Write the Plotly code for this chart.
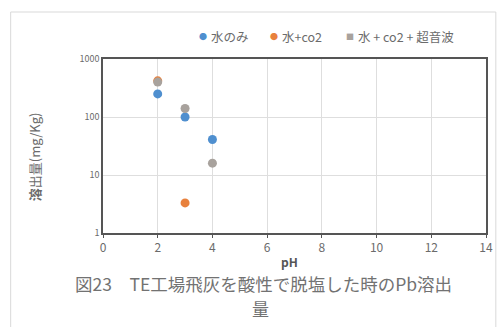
import plotly.graph_objects as go

# Pb leaching (mg/Kg) vs. pH for three washing conditions
ph_water = [2, 3, 4]
pb_water = [250, 100, 41]

ph_co2 = [2, 3]
pb_co2 = [420, 3.3]

ph_co2_us = [2, 3, 4]
pb_co2_us = [400, 140, 16]

series_names = ["水のみ", "水+co2", "水 + co2 + 超音波"]
series_colors = ["#4f8fcf", "#e8813d", "#a8a29d"]
legend_symbols = ["●", "●", "■"]
y_ticks = [1, 10, 100, 1000]
x_ticks = [0, 2, 4, 6, 8, 10, 12, 14]

FONT = "Noto Sans CJK JP"
TXT = "#6b6b6b"

L, R, T, B = 103, 493, 59, 233
PW, PH = R - L, B - T


def px(x):
    return (x - L) / PW


def py(y):
    return (B - y) / PH


fig = go.Figure()
for xs, ys, name, col in [(ph_water, pb_water, series_names[0], series_colors[0]),
                          (ph_co2, pb_co2, series_names[1], series_colors[1]),
                          (ph_co2_us, pb_co2_us, series_names[2], series_colors[2])]:
    fig.add_trace(go.Scatter(x=xs, y=ys, mode="markers", name=name,
                             marker=dict(color=col, size=9)))

annotations = []
# legend row drawn as symbol + label pairs above the plot
legend_x = [205, 277, 355]
for lx, name, col, sym in zip(legend_x, series_names, series_colors, legend_symbols):
    annotations.append(dict(text=sym, xref="paper", yref="paper", x=px(lx), y=py(36),
                            showarrow=False, xanchor="center", yanchor="middle",
                            font=dict(size=8, color=col, family=FONT)))
    annotations.append(dict(text=name, xref="paper", yref="paper", x=px(lx + 6), y=py(36),
                            showarrow=False, xanchor="left", yanchor="middle",
                            font=dict(size=12.5, color=TXT, family=FONT)))

annotations += [
    dict(text="<b>pH</b>", xref="paper", yref="paper", x=px(293), y=py(261),
         showarrow=False, xanchor="center", yanchor="middle",
         font=dict(size=12, color="#555555", family=FONT)),
    dict(text="<b>溶</b>出量(mg/Kg)", xref="paper", yref="paper", x=px(33),
         y=py(157), textangle=-90, showarrow=False,
         xanchor="center", yanchor="middle",
         font=dict(size=13, color=TXT, family=FONT)),
    dict(text="図23　TE工場飛灰を酸性で脱塩した時のPb溶出", xref="paper", yref="paper",
         x=px(266), y=py(283), showarrow=False,
         xanchor="center", yanchor="middle",
         font=dict(size=17.5, color="#727272", family=FONT)),
    dict(text="量", xref="paper", yref="paper",
         x=px(263), y=py(308), showarrow=False,
         xanchor="center", yanchor="middle",
         font=dict(size=17, color="#727272", family=FONT)),
]

fig.update_layout(
    width=502, height=327,
    margin=dict(l=L, r=502 - R, t=T, b=327 - B),
    paper_bgcolor="white", plot_bgcolor="white",
    font=dict(family=FONT, color=TXT, size=10),
    showlegend=False,
    xaxis=dict(range=[0, 14], tickvals=x_ticks, showgrid=True, gridcolor="#dedede",
               gridwidth=1, showline=True, linecolor="#555555", linewidth=1.5,
               mirror=True, ticks="outside", ticklen=3, tickcolor="#555555",
               tickfont=dict(size=12, color=TXT), zeroline=False),
    yaxis=dict(type="log", range=[0, 3], tickvals=y_ticks,
               ticktext=[str(v) for v in y_ticks], showgrid=True, gridcolor="#dedede",
               showline=True, linecolor="#555555", linewidth=1.5, mirror=True,
               ticks="", tickfont=dict(size=9, color=TXT), zeroline=False),
    shapes=[dict(type="rect", xref="paper", yref="paper",
                 x0=px(9), x1=px(503), y0=py(330), y1=py(12),
                 line=dict(color="#d9d9d9", width=1), layer="below")],
    annotations=annotations,
)

fig.write_html("out.html")
